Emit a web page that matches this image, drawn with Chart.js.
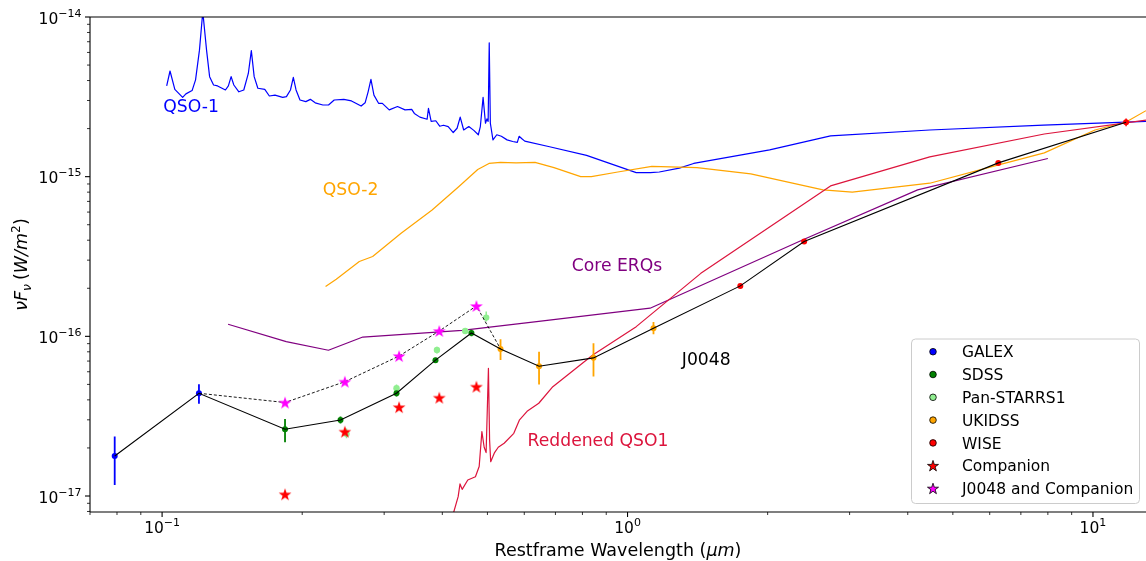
<!DOCTYPE html>
<html><head><meta charset="utf-8">
<script src="https://cdn.jsdelivr.net/npm/chart.js@4.4.1/dist/chart.umd.min.js"></script>
<style>html,body{margin:0;padding:0;background:#fff}#wrap{width:1146px;height:561px}</style>
</head><body><div id="wrap"><canvas id="c" width="1146" height="561"></canvas></div>
<script>
// ---------- axis ranges & ticks ----------
const xMin = 0.07, xMax = 13;
const yMin = 7.94e-18, yMax = 1e-14;
const xTickValues = [0.07,0.08,0.09,0.1,0.2,0.3,0.4,0.5,0.6,0.7,0.8,0.9,1,2,3,4,5,6,7,8,9,10];
const yTickValues = [8e-18,9e-18,1e-17,2e-17,3e-17,4e-17,5e-17,6e-17,7e-17,8e-17,9e-17,
  1e-16,2e-16,3e-16,4e-16,5e-16,6e-16,7e-16,8e-16,9e-16,
  1e-15,2e-15,3e-15,4e-15,5e-15,6e-15,7e-15,8e-15,9e-15,1e-14];

// ---------- J0048 photometry ----------
const galexWave = [0.0791, 0.120];
const galexFlux = [1.78e-17, 4.40e-17];
const galexLo   = [1.17e-17, 3.78e-17];
const galexHi   = [2.36e-17, 5.01e-17];

const sdssWave = [0.1837, 0.2417, 0.3189, 0.3867, 0.462];
const sdssFlux = [2.62e-17, 2.995e-17, 4.40e-17, 7.09e-17, 1.05e-16];
const sdssLo   = [2.17e-17, 2.85e-17, 4.2e-17, 6.85e-17, 1.0e-16];
const sdssHi   = [3.04e-17, 3.15e-17, 4.6e-17, 7.35e-17, 1.1e-16];

const panWave = [0.249, 0.3189, 0.3895, 0.448, 0.497];
const panFlux = [2.45e-17, 4.73e-17, 8.22e-17, 1.08e-16, 1.31e-16];
const panLo   = [2.3e-17, 4.45e-17, 7.8e-17, 1.04e-16, 1.24e-16];
const panHi   = [2.65e-17, 5.0e-17, 8.6e-17, 1.12e-16, 1.43e-16];

const ukidssWave = [0.5335, 0.6455, 0.845, 1.137];
const ukidssFlux = [8.34e-17, 6.5e-17, 7.33e-17, 1.125e-16];
const ukidssLo   = [7.1e-17, 5.0e-17, 5.6e-17, 1.03e-16];
const ukidssHi   = [9.6e-17, 8.0e-17, 9.06e-17, 1.23e-16];

const wiseWave = [1.747, 2.396, 6.26, 11.78];
const wiseFlux = [2.07e-16, 3.92e-16, 1.22e-15, 2.19e-15];
const wiseLo   = [2.02e-16, 3.85e-16, 1.2e-15, 2.07e-15];
const wiseHi   = [2.12e-16, 4.0e-16, 1.25e-15, 2.31e-15];

const starWave = [0.1837, 0.247, 0.323, 0.394, 0.4735];
const companionFlux = [1.025e-17, 2.53e-17, 3.6e-17, 4.13e-17, 4.84e-17];
const combinedFlux  = [3.85e-17, 5.2e-17, 7.53e-17, 1.08e-16, 1.55e-16];

// ---------- templates ----------
const qso1Wave = [0.1023,0.104,0.1065,0.1107,0.1125,0.116,0.118,0.1203,0.1223,0.1246,0.1265,0.129,0.1316,0.1368,0.1388,0.1407,0.1426,0.1462,0.1498,0.1532,0.1555,0.1577,0.1606,0.1662,0.17,0.1748,0.1816,0.185,0.1887,0.1914,0.194,0.1978,0.2036,0.2082,0.2133,0.2215,0.2278,0.2343,0.2457,0.2552,0.2677,0.273,0.2771,0.281,0.2852,0.2918,0.2973,0.3076,0.3205,0.3326,0.3438,0.3483,0.358,0.371,0.3735,0.3785,0.3873,0.3948,0.4024,0.4118,0.4222,0.4303,0.437,0.4446,0.456,0.4674,0.478,0.4828,0.4894,0.4952,0.4988,0.5018,0.5045,0.5073,0.5139,0.5237,0.5357,0.551,0.5667,0.5797,0.5848,0.5939,0.6014,0.68,0.8165,1.044,1.12,1.17,1.292,1.387,2.02,2.73,4.46,7.83,13];
const qso1Flux = [3.70e-15,4.59e-15,3.52e-15,3.14e-15,3.30e-15,3.46e-15,4.04e-15,6.2e-15,1.08e-14,6.2e-15,4.23e-15,3.75e-15,3.70e-15,3.49e-15,3.70e-15,4.23e-15,3.75e-15,3.40e-15,3.49e-15,4.43e-15,6.16e-15,4.23e-15,3.58e-15,3.52e-15,3.20e-15,3.24e-15,3.14e-15,3.17e-15,3.49e-15,4.19e-15,3.49e-15,3.02e-15,2.95e-15,3.05e-15,2.90e-15,2.81e-15,2.81e-15,3.02e-15,3.05e-15,2.98e-15,2.77e-15,2.90e-15,3.40e-15,4.07e-15,3.24e-15,2.88e-15,2.88e-15,2.62e-15,2.75e-15,2.62e-15,2.64e-15,2.49e-15,2.36e-15,2.29e-15,2.68e-15,2.22e-15,2.24e-15,2.07e-15,2.10e-15,2.06e-15,1.89e-15,2.01e-15,2.36e-15,1.96e-15,2.06e-15,1.95e-15,1.83e-15,2.06e-15,3.14e-15,2.16e-15,2.30e-15,2.22e-15,6.9e-15,2.16e-15,1.70e-15,1.83e-15,1.79e-15,1.70e-15,1.66e-15,1.64e-15,1.79e-15,1.72e-15,1.67e-15,1.54e-15,1.36e-15,1.06e-15,1.06e-15,1.07e-15,1.13e-15,1.21e-15,1.47e-15,1.8e-15,1.96e-15,2.1e-15,2.22e-15];

const qso2Wave = [0.2245,0.2367,0.2653,0.2834,0.3262,0.3803,0.4337,0.4766,0.5039,0.5335,0.576,0.6328,0.6951,0.7932,0.8363,0.953,1.128,1.41,1.84,2.63,3.04,4.46,6.24,7.86,10.1,11.78,13];
const qso2Flux = [2.05e-16,2.28e-16,2.94e-16,3.16e-16,4.42e-16,6.18e-16,8.65e-16,1.11e-15,1.21e-15,1.23e-15,1.22e-15,1.23e-15,1.14e-15,1.0e-15,1.0e-15,1.07e-15,1.16e-15,1.14e-15,1.04e-15,8.26e-16,8.0e-16,9.1e-16,1.18e-15,1.41e-15,1.96e-15,2.2e-15,2.59e-15];

const erqWave = [0.1386,0.1848,0.2277,0.2699,0.4413,0.6446,1.118,2.396,4.2,8.0];
const erqFlux = [1.19e-16,9.27e-17,8.18e-17,9.9e-17,1.09e-16,1.24e-16,1.5e-16,4.06e-16,8.26e-16,1.3e-15];

const redWave = [0.415,0.4233,0.4326,0.4366,0.4413,0.4537,0.4712,0.48,0.4865,0.492,0.4968,0.5025,0.5054,0.5082,0.518,0.5275,0.5431,0.5697,0.5861,0.6084,0.6446,0.691,0.842,1.044,1.437,2.73,4.46,7.86,13];
const redFlux = [6.5e-18,7.94e-18,9.9e-18,1.19e-17,1.1e-17,1.26e-17,1.32e-17,1.53e-17,2.53e-17,2.02e-17,1.87e-17,6.31e-17,2.24e-17,1.64e-17,1.87e-17,2.02e-17,2.14e-17,2.47e-17,3.0e-17,3.39e-17,3.81e-17,4.84e-17,7.65e-17,1.15e-16,2.48e-16,8.75e-16,1.33e-15,1.85e-15,2.26e-15];

// ---------- annotation texts (data coordinates) ----------
const annoText  = ['QSO-1','QSO-2','Core ERQs','J0048','Reddened QSO1'];
const annoX     = [0.1154, 0.254, 0.9494, 1.476, 0.8641];
const annoY     = [2.71e-15, 8.17e-16, 2.73e-16, 7.01e-17, 2.18e-17];
const annoColor = ['#0000ff','#ffa500','#800080','#000000','#dc143c'];

const legendLabels = ['GALEX','SDSS','Pan-STARRS1','UKIDSS','WISE','Companion','J0048 and Companion'];

// ---------- helpers ----------
const pts = (xs, ys) => xs.map((x, i) => ({x: x, y: ys[i]}));
const bars = (xs, lo, hi) => { const o = []; xs.forEach((x, i) => { o.push({x: x, y: lo[i]}, {x: x, y: hi[i]}, {x: x, y: null}); }); return o; };

function starPath(g, cx, cy, R, r) {
  g.beginPath();
  for (let k = 0; k < 10; k++) {
    const a = -Math.PI / 2 + k * Math.PI / 5;
    const rr = k % 2 === 0 ? R : r;
    const px = cx + rr * Math.cos(a), py = cy + rr * Math.sin(a);
    if (k === 0) g.moveTo(px, py); else g.lineTo(px, py);
  }
  g.closePath();
}
function starImage(R, fill) {
  const s = Math.ceil(2 * R + 4);
  const c = document.createElement('canvas'); c.width = s; c.height = s;
  const g = c.getContext('2d');
  starPath(g, s / 2, s / 2 + R * 0.1, R, R * 0.382);
  g.fillStyle = fill; g.fill();
  return c;
}
const redStar = starImage(6.7, '#ff0000');
const magStar = starImage(6.7, '#ff00ff');

const lineDS = (label, xs, ys, color, order) => ({
  label, data: pts(xs, ys), borderColor: color, backgroundColor: color, borderWidth: 1.2,
  pointRadius: 0, pointHoverRadius: 0, borderJoinStyle: 'round', order, clip: 0
});
const errDS = (label, xs, lo, hi, color, w) => ({
  label, data: bars(xs, lo, hi), borderColor: color, backgroundColor: color, borderWidth: w,
  pointRadius: 0, pointHoverRadius: 0, spanGaps: false, order: 10
});
const ptDS = (label, xs, ys, color, r) => ({
  label, data: pts(xs, ys), showLine: false, pointRadius: r, pointHoverRadius: r,
  pointBackgroundColor: color, pointBorderColor: color, pointBorderWidth: 0, borderColor: color, backgroundColor: color, order: 8
});

const j0048Wave = galexWave.concat(sdssWave, ukidssWave, wiseWave);
const j0048Flux = galexFlux.concat(sdssFlux, ukidssFlux, wiseFlux);
const dashWave = [galexWave[1]].concat(starWave, [ukidssWave[0]]);
const dashFlux = [galexFlux[1]].concat(combinedFlux, [ukidssFlux[0]]);

const datasets = [
  lineDS('QSO-1', qso1Wave, qso1Flux, '#0000ff', 20),
  lineDS('QSO-2', qso2Wave, qso2Flux, '#ffa500', 19),
  lineDS('Core ERQs', erqWave, erqFlux, '#800080', 18),
  lineDS('Reddened QSO1', redWave, redFlux, '#dc143c', 17),
  errDS('GALEX err', galexWave, galexLo, galexHi, '#0000ff', 1.8),
  errDS('SDSS err', sdssWave, sdssLo, sdssHi, '#008000', 1.8),
  errDS('Pan err', panWave, panLo, panHi, '#90ee90', 1.5),
  errDS('UKIDSS err', ukidssWave, ukidssLo, ukidssHi, '#ffa500', 1.8),
  errDS('WISE err', wiseWave, wiseLo, wiseHi, '#ff0000', 1.5),
  ptDS('GALEX', galexWave, galexFlux, '#0000ff', 3),
  ptDS('SDSS', sdssWave, sdssFlux, '#008000', 3),
  ptDS('Pan-STARRS1', panWave, panFlux, '#90ee90', 3.2),
  ptDS('UKIDSS', ukidssWave, ukidssFlux, '#ffa500', 3),
  ptDS('WISE', wiseWave, wiseFlux, '#ff0000', 3),
  {label: 'J0048', data: pts(j0048Wave, j0048Flux), borderColor: '#000000', borderWidth: 1.1, pointRadius: 0, pointHoverRadius: 0, order: 6},
  {label: 'J0048 dashed', data: pts(dashWave, dashFlux), borderColor: '#000000', borderWidth: 0.9, borderDash: [3, 2], pointRadius: 0, pointHoverRadius: 0, order: 6},
  {label: 'Companion', data: pts(starWave, companionFlux), showLine: false, pointStyle: redStar, pointRadius: 6, order: 4},
  {label: 'J0048 and Companion', data: pts(starWave, combinedFlux), showLine: false, pointStyle: magStar, pointRadius: 6, order: 3}
];

// ---------- drawing helpers ----------
const FAM = '"DejaVu Sans", sans-serif';
const fnt = (s, it) => (it ? 'italic ' : '') + s + 'px ' + FAM;
function runsWidth(ctx, runs) { let w = 0; for (const r of runs) { ctx.font = fnt(r.size, r.italic); w += ctx.measureText(r.text).width + (r.gap || 0); } return w; }
function drawRuns(ctx, runs, x, y) { let cx = x; for (const r of runs) { ctx.font = fnt(r.size, r.italic); ctx.fillText(r.text, cx, y + (r.dy || 0)); cx += ctx.measureText(r.text).width + (r.gap || 0); } }
const isMajor = v => Math.abs(Math.log10(v) - Math.round(Math.log10(v))) < 1e-9;
const expStr = v => { const e = Math.round(Math.log10(v)); return (e < 0 ? '\u2212' : '') + Math.abs(e); };

const deco = {
  id: 'deco',
  afterDraw(chart) {
    const ctx = chart.ctx, ca = chart.chartArea, xs = chart.scales.x, ys = chart.scales.y;
    ctx.save();
    ctx.fillStyle = '#000'; ctx.strokeStyle = '#000';
    // spines (right spine lies at the canvas edge)
    ctx.lineWidth = 1.1;
    ctx.beginPath();
    ctx.moveTo(ca.left, ca.top); ctx.lineTo(ca.right, ca.top);
    ctx.moveTo(ca.left, ca.top); ctx.lineTo(ca.left, ca.bottom);
    ctx.moveTo(ca.left, ca.bottom); ctx.lineTo(ca.right, ca.bottom);
    ctx.stroke();
    // ticks
    ctx.textBaseline = 'alphabetic'; ctx.textAlign = 'left';
    for (const t of xs.ticks) {
      const p = xs.getPixelForValue(t.value), maj = isMajor(t.value);
      ctx.lineWidth = maj ? 1.1 : 0.8;
      ctx.beginPath(); ctx.moveTo(p, ca.bottom); ctx.lineTo(p, ca.bottom + (maj ? 5 : 3)); ctx.stroke();
      if (maj) {
        const runs = [{text: '10', size: 15.5}, {text: expStr(t.value), size: 11, dy: -7}];
        const w = runsWidth(ctx, runs);
        drawRuns(ctx, runs, p - w / 2, ca.bottom + 21);
      }
    }
    for (const t of ys.ticks) {
      const p = ys.getPixelForValue(t.value), maj = isMajor(t.value);
      ctx.lineWidth = maj ? 1.1 : 0.8;
      ctx.beginPath(); ctx.moveTo(ca.left - (maj ? 5 : 3), p); ctx.lineTo(ca.left, p); ctx.stroke();
      if (maj) {
        const runs = [{text: '10', size: 15.5}, {text: expStr(t.value), size: 11, dy: -7}];
        const w = runsWidth(ctx, runs);
        drawRuns(ctx, runs, ca.left - 8.5 - w, p + 6.5);
      }
    }
    // x title
    const xr = [{text: 'Restframe Wavelength (', size: 17.5}, {text: '\u03bcm', size: 17.5, italic: true}, {text: ')', size: 17.5}];
    drawRuns(ctx, xr, (ca.left + ca.right) / 2 - runsWidth(ctx, xr) / 2, 556);
    // y title
    const yr = [{text: '\u03bdF', size: 17.5, italic: true}, {text: '\u03bd', size: 12.3, italic: true, dy: 3.5, gap: 4},
      {text: '(', size: 17.5}, {text: 'W/m', size: 17.5, italic: true}, {text: '2', size: 12.3, dy: -7.5}, {text: ')', size: 17.5}];
    ctx.save();
    ctx.translate(27, (ca.top + ca.bottom) / 2);
    ctx.rotate(-Math.PI / 2);
    drawRuns(ctx, yr, -runsWidth(ctx, yr) / 2, 0);
    ctx.restore();
    // annotations
    ctx.font = fnt(17.2); ctx.textAlign = 'center'; ctx.textBaseline = 'middle';
    annoText.forEach((s, i) => {
      ctx.fillStyle = annoColor[i];
      ctx.fillText(s, xs.getPixelForValue(annoX[i]), ys.getPixelForValue(annoY[i]));
    });
    // legend
    const bw = 228, bh = 164.5, bx = ca.right - 6.5 - bw, by = ca.bottom - 8.5 - bh;
    ctx.beginPath();
    if (ctx.roundRect) ctx.roundRect(bx, by, bw, bh, 4); else ctx.rect(bx, by, bw, bh);
    ctx.fillStyle = 'rgba(255,255,255,0.8)'; ctx.fill();
    ctx.strokeStyle = '#cccccc'; ctx.lineWidth = 1; ctx.stroke();
    ctx.textAlign = 'left'; ctx.textBaseline = 'alphabetic'; ctx.font = fnt(15.5);
    legendLabels.forEach((lab, i) => {
      const ds = chart.data.datasets.find(d => d.label === lab);
      const cy = by + 12.7 + i * 22.8, mx = bx + 21.5;
      ctx.strokeStyle = '#000'; ctx.lineWidth = 0.8;
      if (ds.pointStyle === redStar || ds.pointStyle === magStar) {
        starPath(ctx, mx, cy + 0.5, 5.8, 5.8 * 0.382);
        ctx.fillStyle = ds.pointStyle === redStar ? '#ff0000' : '#ff00ff';
      } else {
        ctx.beginPath(); ctx.arc(mx, cy, 3.3, 0, Math.PI * 2);
        ctx.fillStyle = ds.pointBackgroundColor;
      }
      ctx.fill(); ctx.stroke();
      ctx.fillStyle = '#000';
      ctx.fillText(lab, bx + 50.5, cy + 5.6);
    });
    ctx.restore();
  }
};

Chart.defaults.font.family = FAM;
new Chart(document.getElementById('c'), {
  type: 'line',
  data: {datasets},
  options: {
    responsive: false, animation: false, devicePixelRatio: 1,
    layout: {autoPadding: false, padding: {top: 17, right: 0, bottom: 0, left: 0}},
    plugins: {legend: {display: false}, tooltip: {enabled: false}},
    events: [],
    scales: {
      x: {type: 'logarithmic', position: 'bottom', min: xMin, max: xMax,
        afterFit: s => { s.height = 49; },
        afterBuildTicks: s => { s.ticks = xTickValues.map(v => ({value: v, major: isMajor(v)})); },
        grid: {display: false, drawTicks: false}, border: {display: false}, ticks: {display: false}},
      y: {type: 'logarithmic', position: 'left', min: yMin, max: yMax,
        afterFit: s => { s.width = 90; },
        afterBuildTicks: s => { s.ticks = yTickValues.map(v => ({value: v, major: isMajor(v)})); },
        grid: {display: false, drawTicks: false}, border: {display: false}, ticks: {display: false}}
    }
  },
  plugins: [deco]
});
</script></body></html>
